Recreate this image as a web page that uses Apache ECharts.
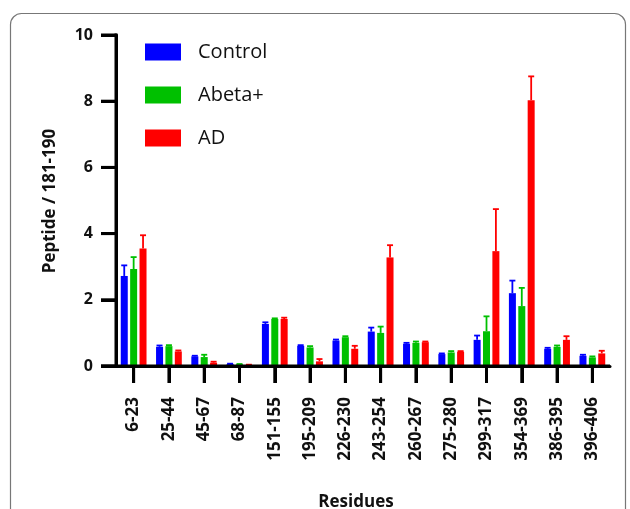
<!DOCTYPE html>
<html><head><meta charset="utf-8">
<script src="https://cdn.jsdelivr.net/npm/echarts@6/dist/echarts.min.js"></script>
<style>html,body{margin:0;padding:0;background:#fff}#c{width:630px;height:509px}</style>
</head><body><div id="c"></div>
<script>
const categories = ['6-23','25-44','45-67','68-87','151-155','195-209','226-230','243-254','260-267','275-280','299-317','354-369','386-395','396-406'];
const controlVals = [2.72,0.58,0.29,0.06,1.27,0.61,0.77,1.04,0.67,0.36,0.79,2.20,0.52,0.31];
const controlErr  = [3.04,0.62,0.31,0.07,1.32,0.63,0.80,1.16,0.70,0.38,0.92,2.58,0.55,0.34];
const abetaVals   = [2.93,0.60,0.27,0.05,1.42,0.56,0.87,1.00,0.70,0.41,1.05,1.81,0.58,0.26];
const abetaErr    = [3.29,0.63,0.34,0.06,1.44,0.60,0.90,1.19,0.74,0.45,1.50,2.36,0.62,0.29];
const adVals      = [3.55,0.44,0.10,0.03,1.42,0.14,0.52,3.28,0.72,0.43,3.47,8.03,0.79,0.38];
const adErr       = [3.95,0.47,0.13,0.04,1.46,0.21,0.61,3.65,0.74,0.45,4.74,8.75,0.90,0.46];
const seriesNames = ['Control','Abeta+','AD'];
const yTicks = [0,2,4,6,8,10];
const xTitle = 'Residues';
const yTitle = 'Peptide / 181-190';

const colors = ['#0000ff','#00c000','#ff0000'];
const vals = [controlVals, abetaVals, adVals];
const errs = [controlErr, abetaErr, adErr];
const BW = 7, SP = 9.4;
const AX = '#000000';

const chart = echarts.init(document.getElementById('c'));
const series = [];
seriesNames.forEach((n,i)=>{
  series.push({name:n,type:'bar',data:vals[i],barWidth:BW,barGap:'34%',itemStyle:{color:colors[i]},z:2});
});
seriesNames.forEach((n,i)=>{
  series.push({name:n+'_err',type:'custom',z:3,
    data:categories.map((c,k)=>[k,vals[i][k],errs[i][k]]),
    renderItem:function(params,api){
      const k=api.value(0);
      const p0=api.coord([k,api.value(1)]);
      const p1=api.coord([k,api.value(2)]);
      const x=p0[0]+(i-1)*SP;
      const st={stroke:colors[i],lineWidth:1.8};
      return {type:'group',children:[
        {type:'line',shape:{x1:x,y1:p0[1],x2:x,y2:p1[1]},style:st},
        {type:'line',shape:{x1:x-3,y1:p1[1],x2:x+3,y2:p1[1]},style:st}
      ]};
    }
  });
});
// axis frame drawn as filled rects from the library's scales
series.push({name:'axes',type:'custom',z:5,clip:false,silent:true,
  data:[[0,0]],
  renderItem:function(params,api){
    const band=api.size([1,0])[0];
    const c0=api.coord([0,0]);
    const left=c0[0]-band/2;
    const yBase=c0[1];
    const right=api.coord([categories.length-1,0])[0]+band/2;
    const top=api.coord([0,yTicks[yTicks.length-1]])[1];
    const fs={fill:AX};
    const ch=[
      {type:'rect',shape:{x:left-15,y:yBase-1.5,width:right-left+15,height:3},style:fs},
      {type:'rect',shape:{x:left-1.5,y:top-1.5,width:3,height:yBase-top+1.5},style:fs}
    ];
    yTicks.forEach(v=>{const y=api.coord([0,v])[1];
      ch.push({type:'rect',shape:{x:left-15,y:y-1.5,width:15,height:3},style:fs});});
    categories.forEach((c,k)=>{const x=api.coord([k,0])[0];
      ch.push({type:'rect',shape:{x:x-1.5,y:yBase,width:3,height:17},style:fs});});
    return {type:'group',children:ch};
  }
});

const titleFont = {fontSize:17,fontWeight:'bold',fill:'#111',fontFamily:'Open Sans'};
chart.setOption({
  animation:false,
  textStyle:{fontFamily:'Open Sans'},
  legend:{orient:'vertical',left:140,top:37,itemWidth:36,itemHeight:17,itemGap:23,
    data:seriesNames,icon:'rect',
    textStyle:{fontSize:20,color:'#111',fontFamily:'Open Sans',padding:[0,0,0,12]}},
  grid:{left:116,right:20,top:35,bottom:143,containLabel:false},
  xAxis:{type:'category',data:categories,
    axisLine:{show:true,lineStyle:{color:AX,width:3}},
    axisTick:{show:true,alignWithLabel:true,length:17,lineStyle:{color:AX,width:3}},
    axisLabel:{rotate:90,margin:31,fontSize:17,fontWeight:'bold',color:'#111',fontFamily:'Open Sans'}},
  yAxis:{type:'value',min:0,max:10,interval:2,
    axisLine:{show:true,lineStyle:{color:AX,width:3}},
    axisTick:{show:true,length:15,lineStyle:{color:AX,width:3}},
    splitLine:{show:false},
    axisLabel:{margin:23,fontSize:16,fontWeight:'bold',color:'#111',fontFamily:'Open Sans'}},
  graphic:[
    {type:'rect',shape:{x:10.5,y:13.5,width:615,height:520,r:11},style:{fill:null,stroke:'#777',lineWidth:1.2},z:-1},
    {type:'text',x:356,y:502,style:Object.assign({text:xTitle,align:'center',verticalAlign:'middle'},titleFont)},
    {type:'text',x:50,y:201,rotation:Math.PI/2,style:Object.assign({text:yTitle,align:'center',verticalAlign:'middle'},titleFont)}
  ],
  series:series
});
</script></body></html>
